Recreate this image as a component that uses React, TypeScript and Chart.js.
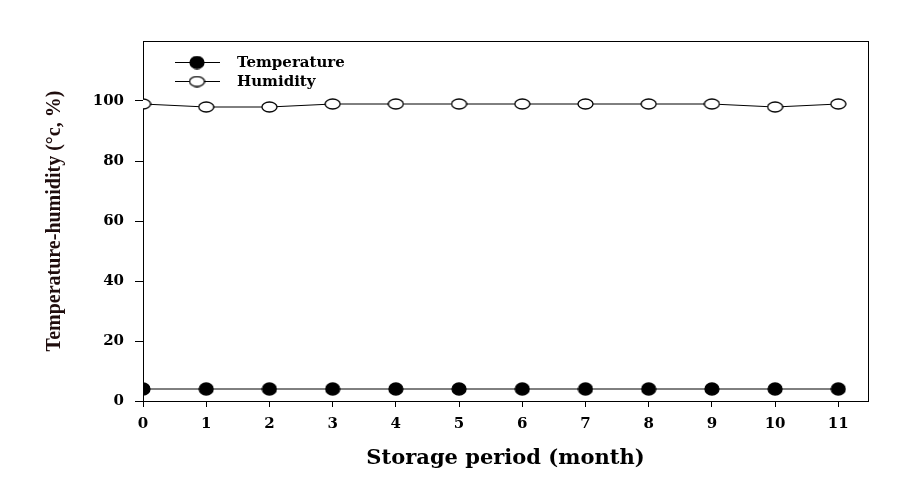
import React, { useEffect, useRef } from "react";
import { Chart, registerables } from "chart.js";

Chart.register(...registerables);

const months = [0, 1, 2, 3, 4, 5, 6, 7, 8, 9, 10, 11];
const temperature = [4, 4, 4, 4, 4, 4, 4, 4, 4, 4, 4, 4];
const humidity = [99, 98, 98, 99, 99, 99, 99, 99, 99, 99, 98, 99];
const yTicks = [0, 20, 40, 60, 80, 100];
const seriesLabels = ["Temperature", "Humidity"];

const SERIF = "'Liberation Serif', 'Times New Roman', serif";
const WIDE = "'DejaVu Serif', serif";

function makeEllipse(fill: string, w: number, h: number) {
  const c = document.createElement("canvas");
  c.width = w + 2;
  c.height = h + 2;
  const ctx = c.getContext("2d")!;
  ctx.beginPath();
  ctx.ellipse((w + 2) / 2, (h + 2) / 2, w / 2, h / 2, 0, 0, Math.PI * 2);
  ctx.fillStyle = fill;
  ctx.fill();
  ctx.strokeStyle = "#000";
  ctx.lineWidth = 1.3;
  ctx.stroke();
  return c;
}

const legendPlugin = {
  id: "insideLegend",
  afterDraw(chart: any) {
    const { ctx, chartArea } = chart;
    ctx.save();
    const ds = chart.data.datasets;
    const x0 = Math.round(chartArea.left) + 32;
    const y0 = Math.round(chartArea.top) + 21;
    ds.forEach((d: any, i: number) => {
      const y = y0 + i * 19;
      ctx.strokeStyle = "#000";
      ctx.lineWidth = 1;
      ctx.beginPath();
      ctx.moveTo(x0, y + 0.5);
      ctx.lineTo(x0 + 45, y + 0.5);
      ctx.stroke();
      const img = d.pointStyle as HTMLCanvasElement;
      ctx.drawImage(img, x0 + 22 - img.width / 2, y + 0.5 - img.height / 2);
      ctx.fillStyle = "#000";
      ctx.font = `bold 15px ${WIDE}`;
      ctx.textBaseline = "middle";
      ctx.textAlign = "left";
      ctx.fillText(d.label, x0 + 62, y + 1);
    });
    ctx.restore();
  },
};

export default function App() {
  const ref = useRef<HTMLCanvasElement>(null);
  useEffect(() => {
    if (!ref.current) return;
    const filled = makeEllipse("#000", 14, 12);
    const open = makeEllipse("#fff", 15, 10);
    const chart = new Chart(ref.current, {
      type: "line",
      data: {
        datasets: [
          {
            label: seriesLabels[0],
            data: months.map((m, i) => ({ x: m, y: temperature[i] })),
            borderColor: "#000",
            borderWidth: 1,
            pointStyle: filled,
            pointRadius: 7,
          },
          {
            label: seriesLabels[1],
            data: months.map((m, i) => ({ x: m, y: humidity[i] })),
            borderColor: "#000",
            borderWidth: 1,
            pointStyle: open,
            pointRadius: 7,
          },
        ],
      },
      options: {
        animation: false,
        responsive: false,
        maintainAspectRatio: false,
        layout: { padding: { left: 43, top: 41, right: 47, bottom: 16 } },
        plugins: { legend: { display: false }, tooltip: { enabled: false } },
        scales: {
          x: {
            type: "linear",
            min: 0,
            max: 11.47,
            afterBuildTicks: (s: any) => {
              s.ticks = months.map((m) => ({ value: m }));
            },
            afterFit: (s: any) => {
              s.height = 70;
            },
            grid: { drawOnChartArea: false, drawTicks: true, tickLength: 6, color: "#000" },
            border: { display: true, color: "#000", width: 1 },
            ticks: {
              color: "#000",
              padding: 8,
              maxRotation: 0,
              font: { family: WIDE, size: 15, weight: "bold" },
            },
            title: {
              display: true,
              text: "Storage period (month)",
              color: "#000",
              padding: 0,
              font: { family: WIDE, size: 21, weight: "bold" },
            },
          },
          xTop: {
            type: "linear",
            position: "top",
            min: 0,
            max: 11.47,
            afterFit: (s: any) => {
              s.height = 0;
            },
            grid: { display: false },
            ticks: { display: false },
            border: { display: true, color: "#000", width: 1 },
          },
          y: {
            min: 0,
            max: 120,
            afterBuildTicks: (s: any) => {
              s.ticks = yTicks.map((v) => ({ value: v }));
            },
            afterFit: (s: any) => {
              s.width = 100;
            },
            grid: { drawOnChartArea: false, drawTicks: true, tickLength: 8, color: "#000" },
            border: { display: true, color: "#000", width: 1 },
            ticks: {
              color: "#000",
              padding: 11,
              font: { family: WIDE, size: 15, weight: "bold" },
            },
            title: {
              display: true,
              text: "Temperature-humidity (°c, %)",
              color: "#1f0d0d",
              padding: 0,
              font: { family: SERIF, size: 20, weight: "bold" },
            },
          },
          yRight: {
            position: "right",
            min: 0,
            max: 120,
            afterFit: (s: any) => {
              s.width = 0;
            },
            grid: { display: false },
            ticks: { display: false },
            border: { display: true, color: "#000", width: 1 },
          },
        },
      },
      plugins: [legendPlugin],
    } as any);
    return () => chart.destroy();
  }, []);
  return (
    <div style={{ position: "fixed", left: 0, top: 0, width: 915, height: 487, background: "#fff" }}>
      <canvas ref={ref} width={915} height={487} style={{ display: "block" }} />
    </div>
  );
}
